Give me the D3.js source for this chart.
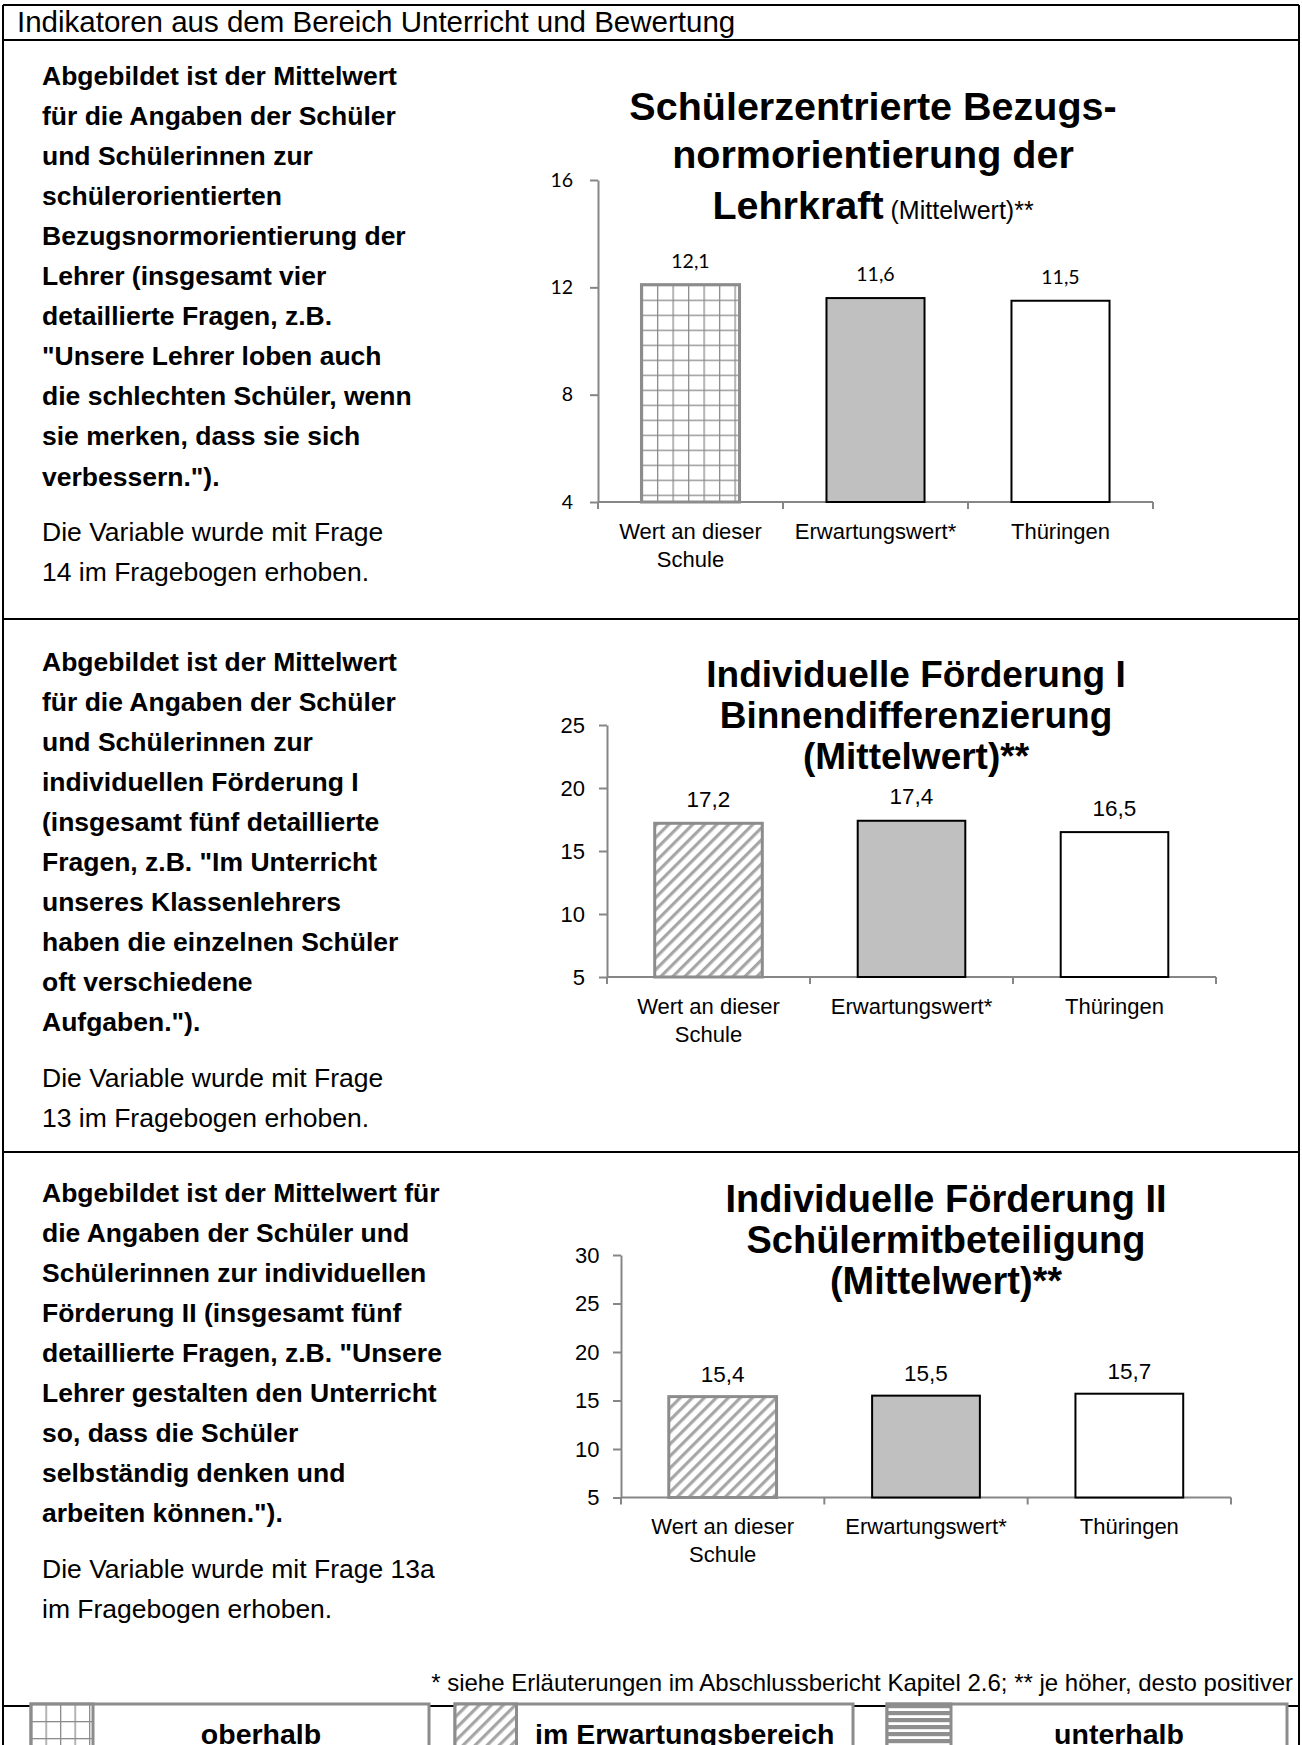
<!DOCTYPE html>
<html lang="de">
<head>
<meta charset="utf-8">
<title>Indikatoren aus dem Bereich Unterricht und Bewertung</title>
<script src="https://cdn.jsdelivr.net/npm/d3@7"></script>
<style>
  html, body { margin: 0; padding: 0; background: #fff; }
  svg { display: block; }
  text { font-family: "Liberation Sans", Arial, sans-serif; fill: #000; }
</style>
</head>
<body>
<svg id="page" width="1302" height="1745"></svg>
<script>
// ---- data ----
const headerText = "Indikatoren aus dem Bereich Unterricht und Bewertung";
const categories = ["Wert an dieser\nSchule", "Erwartungswert*", "Thüringen"];

const valuesBezugsnorm = [12.1, 11.6, 11.5];
const ticksBezugsnorm = [4, 8, 12, 16];

const valuesFoerderung1 = [17.2, 17.4, 16.5];
const ticksFoerderung1 = [5, 10, 15, 20, 25];

const valuesFoerderung2 = [15.4, 15.5, 15.7];
const ticksFoerderung2 = [5, 10, 15, 20, 25, 30];

const titleBezugsnorm = ["Schülerzentrierte Bezugs-", "normorientierung der", "Lehrkraft"];
const titleBezugsnormSuffix = " (Mittelwert)**";
const titleFoerderung1 = ["Individuelle Förderung I", "Binnendifferenzierung", "(Mittelwert)**"];
const titleFoerderung2 = ["Individuelle Förderung II", "Schülermitbeteiligung", "(Mittelwert)**"];

const textBezugsnorm = [
  "Abgebildet ist der Mittelwert",
  "für die Angaben der Schüler",
  "und Schülerinnen zur",
  "schülerorientierten",
  "Bezugsnormorientierung der",
  "Lehrer (insgesamt vier",
  "detaillierte Fragen, z.B.",
  "\"Unsere Lehrer loben auch",
  "die schlechten Schüler, wenn",
  "sie merken, dass sie sich",
  "verbessern.\")."
];
const noteBezugsnorm = ["Die Variable wurde mit Frage", "14 im Fragebogen erhoben."];

const textFoerderung1 = [
  "Abgebildet ist der Mittelwert",
  "für die Angaben der Schüler",
  "und Schülerinnen zur",
  "individuellen Förderung I",
  "(insgesamt fünf detaillierte",
  "Fragen, z.B. \"Im Unterricht",
  "unseres Klassenlehrers",
  "haben die einzelnen Schüler",
  "oft verschiedene",
  "Aufgaben.\")."
];
const noteFoerderung1 = ["Die Variable wurde mit Frage", "13 im Fragebogen erhoben."];

const textFoerderung2 = [
  "Abgebildet ist der Mittelwert für",
  "die Angaben der Schüler und",
  "Schülerinnen zur individuellen",
  "Förderung II (insgesamt fünf",
  "detaillierte Fragen, z.B. \"Unsere",
  "Lehrer gestalten den Unterricht",
  "so, dass die Schüler",
  "selbständig denken und",
  "arbeiten können.\")."
];
const noteFoerderung2 = ["Die Variable wurde mit Frage 13a", "im Fragebogen erhoben."];

const footnote = "* siehe Erläuterungen im Abschlussbericht Kapitel 2.6; ** je höher, desto positiver";
const legendLabels = ["oberhalb", "im Erwartungsbereich", "unterhalb"];

// ---- drawing ----
const svg = d3.select("#page");
const defs = svg.append("defs");
const AXIS = "#868686";
const PATTERN_GREY = "#8c8c8c";

// frame lines of the table
const frame = svg.append("g").attr("stroke", "#000").attr("stroke-width", 2);
[[3, 5, 1299, 5], [3, 40, 1299, 40], [3, 619, 1299, 619], [3, 1152, 1299, 1152],
 [3, 1706, 1299, 1706], [3, 5, 3, 1745], [1299, 5, 1299, 1745]]
  .forEach(([x1, y1, x2, y2]) => frame.append("line")
    .attr("x1", x1).attr("y1", y1).attr("x2", x2).attr("y2", y2));

svg.append("text").attr("x", 17).attr("y", 32)
  .attr("font-size", 29.5).text(headerText);

// hatch / grid patterns
function gridPattern(id, x, y, cw, ch) {
  const p = defs.append("pattern").attr("id", id)
    .attr("patternUnits", "userSpaceOnUse")
    .attr("x", x).attr("y", y).attr("width", cw).attr("height", ch);
  p.append("rect").attr("width", cw).attr("height", ch).attr("fill", "#fff");
  p.append("line").attr("x1", 0).attr("y1", 0).attr("x2", cw).attr("y2", 0)
    .attr("stroke", PATTERN_GREY).attr("stroke-width", 2.6);
  p.append("line").attr("x1", 0).attr("y1", 0).attr("x2", 0).attr("y2", ch)
    .attr("stroke", PATTERN_GREY).attr("stroke-width", 2.6);
  return `url(#${id})`;
}
function hatchPattern(id, x, y) {
  const p = defs.append("pattern").attr("id", id)
    .attr("patternUnits", "userSpaceOnUse")
    .attr("x", x).attr("y", y).attr("width", 8.5).attr("height", 8.5)
    .attr("patternTransform", "rotate(45)");
  p.append("rect").attr("width", 8.5).attr("height", 8.5).attr("fill", "#fff");
  p.append("rect").attr("x", 0).attr("width", 3.2).attr("height", 8.5).attr("fill", "#a6a6a6");
  return `url(#${id})`;
}
function stripePattern(id, x, y) {
  const p = defs.append("pattern").attr("id", id)
    .attr("patternUnits", "userSpaceOnUse")
    .attr("x", x).attr("y", y).attr("width", 10).attr("height", 7);
  p.append("rect").attr("width", 10).attr("height", 7).attr("fill", "#fff");
  p.append("rect").attr("y", 0).attr("width", 10).attr("height", 4.2).attr("fill", "#8f8f8f");
  return `url(#${id})`;
}

function drawParagraph(lines, notes, x, y0, step, noteY0) {
  const g = svg.append("g");
  lines.forEach((t, i) => g.append("text").attr("x", x).attr("y", y0 + i * step)
    .attr("font-size", 26.5).attr("font-weight", "bold").text(t));
  notes.forEach((t, i) => g.append("text").attr("x", x).attr("y", noteY0 + i * step)
    .attr("font-size", 26.5).text(t));
}

function drawChart(cfg) {
  const g = svg.append("g");
  const y = d3.scaleLinear().domain([cfg.ticks[0], cfg.ticks[cfg.ticks.length - 1]])
    .range([cfg.yBottom, cfg.yTop]);
  const x = d3.scaleBand().domain(categories).range([cfg.x0, cfg.x1])
    .paddingInner(0.47).paddingOuter(0.235);

  // y axis
  const yAxis = g.append("g").attr("transform", `translate(${cfg.x0},0)`)
    .call(d3.axisLeft(y).tickValues(cfg.ticks).tickSize(8).tickSizeOuter(0)
      .tickPadding(cfg.tickPad).tickFormat(d3.format("d")));
  yAxis.select(".domain").attr("stroke", AXIS).attr("stroke-width", 2);
  yAxis.selectAll(".tick line").attr("stroke", AXIS).attr("stroke-width", 2);
  yAxis.selectAll(".tick text").attr("fill", "#000")
    .style("font-family", cfg.numFont).attr("font-size", cfg.numSize);

  // category axis: base line with ticks on the band boundaries
  const bounds = d3.range(categories.length + 1).map(i => cfg.x0 + i * x.step());
  g.append("line").attr("x1", cfg.x0).attr("x2", cfg.x1)
    .attr("y1", cfg.yBottom).attr("y2", cfg.yBottom)
    .attr("stroke", AXIS).attr("stroke-width", 2);
  g.selectAll("line.bound").data(bounds).join("line").attr("class", "bound")
    .attr("x1", d => d).attr("x2", d => d)
    .attr("y1", cfg.yBottom).attr("y2", cfg.yBottom + 7)
    .attr("stroke", AXIS).attr("stroke-width", 2);

  // bars
  const fills = [cfg.firstFill(x(categories[0]), y(cfg.values[0])), "#c0c0c0", "#ffffff"];
  const strokes = [PATTERN_GREY, "#000", "#000"];
  const widths = [3, 2, 2];
  g.selectAll("rect.bar").data(cfg.values).join("rect").attr("class", "bar")
    .attr("x", (d, i) => x(categories[i]))
    .attr("y", d => y(d))
    .attr("width", x.bandwidth())
    .attr("height", d => cfg.yBottom - y(d))
    .attr("fill", (d, i) => fills[i])
    .attr("stroke", (d, i) => strokes[i])
    .attr("stroke-width", (d, i) => widths[i]);

  // value labels
  g.selectAll("text.val").data(cfg.values).join("text").attr("class", "val")
    .attr("x", (d, i) => x(categories[i]) + x.bandwidth() / 2)
    .attr("y", d => y(d) - cfg.labelGap)
    .attr("text-anchor", "middle")
    .style("font-family", cfg.numFont).attr("font-size", cfg.labelSize)
    .text(d => d3.format(".1f")(d).replace(".", ","));

  // category labels
  categories.forEach(c => {
    c.split("\n").forEach((line, j) => g.append("text")
      .attr("x", x(c) + x.bandwidth() / 2)
      .attr("y", cfg.catY + j * 27.5)
      .attr("text-anchor", "middle").attr("font-size", 22).text(line));
  });

  // title
  cfg.title.forEach((t, i) => {
    const txt = g.append("text").attr("x", cfg.titleX).attr("y", cfg.titleY[i])
      .attr("text-anchor", "middle").attr("font-size", cfg.titleSize)
      .attr("font-weight", "bold").text(t);
    if (i === cfg.title.length - 1 && cfg.titleSuffix) {
      txt.append("tspan").attr("font-weight", "normal").attr("font-size", 25)
        .text(cfg.titleSuffix);
    }
  });
}

// section 1
drawParagraph(textBezugsnorm, noteBezugsnorm, 42, 84.5, 40.1, 541);
drawChart({
  values: valuesBezugsnorm, ticks: ticksBezugsnorm,
  x0: 598, x1: 1153, yTop: 180, yBottom: 502,
  tickPad: 17, numFont: "Lato, 'Open Sans', sans-serif", numSize: 19.5, labelSize: 19.5, labelGap: 17,
  catY: 539,
  title: titleBezugsnorm, titleSuffix: titleBezugsnormSuffix,
  titleX: 873, titleY: [120, 168, 219], titleSize: 39.5,
  firstFill: (bx, by) => gridPattern("gridBezug", bx, by, 15.5, 15)
});

// section 2
drawParagraph(textFoerderung1, noteFoerderung1, 42, 670.5, 40.1, 1086.5);
drawChart({
  values: valuesFoerderung1, ticks: ticksFoerderung1,
  x0: 607, x1: 1216, yTop: 725, yBottom: 977,
  tickPad: 14, numFont: "'Liberation Sans', Arial, sans-serif", numSize: 22, labelSize: 22.5, labelGap: 16.5,
  catY: 1014,
  title: titleFoerderung1, titleX: 916, titleY: [687, 728, 769], titleSize: 37,
  firstFill: (bx, by) => hatchPattern("hatchF1", bx, by)
});

// section 3
drawParagraph(textFoerderung2, noteFoerderung2, 42, 1202, 40, 1578);
drawChart({
  values: valuesFoerderung2, ticks: ticksFoerderung2,
  x0: 621, x1: 1231, yTop: 1255, yBottom: 1497.5,
  tickPad: 13.5, numFont: "'Liberation Sans', Arial, sans-serif", numSize: 22, labelSize: 22.5, labelGap: 14.5,
  catY: 1534,
  title: titleFoerderung2, titleX: 946, titleY: [1212, 1253, 1294], titleSize: 38,
  firstFill: (bx, by) => hatchPattern("hatchF2", bx, by)
});

svg.append("text").attr("x", 1293).attr("y", 1691).attr("text-anchor", "end")
  .attr("font-size", 24).text(footnote);

// legend boxes along the lower edge
const legendBoxes = [
  { x0: 31, sw: 93, x1: 429, fill: gridPattern("gridLegend", 31, 1704, 14.5, 17) },
  { x0: 455, sw: 516.5, x1: 853, fill: hatchPattern("hatchLegend", 455, 1704) },
  { x0: 887, sw: 951, x1: 1287, fill: stripePattern("stripeLegend", 887, 1704) }
];
legendBoxes.forEach((b, i) => {
  svg.append("rect").attr("x", b.x0).attr("y", 1704).attr("width", b.x1 - b.x0).attr("height", 60)
    .attr("fill", "#fff").attr("stroke", PATTERN_GREY).attr("stroke-width", 3);
  svg.append("rect").attr("x", b.x0).attr("y", 1704).attr("width", b.sw - b.x0).attr("height", 60)
    .attr("fill", b.fill).attr("stroke", PATTERN_GREY).attr("stroke-width", 3);
  svg.append("text").attr("x", (b.sw + b.x1) / 2).attr("y", 1744)
    .attr("text-anchor", "middle").attr("font-size", 28.5).attr("font-weight", "bold")
    .text(legendLabels[i]);
});
</script>
</body>
</html>
